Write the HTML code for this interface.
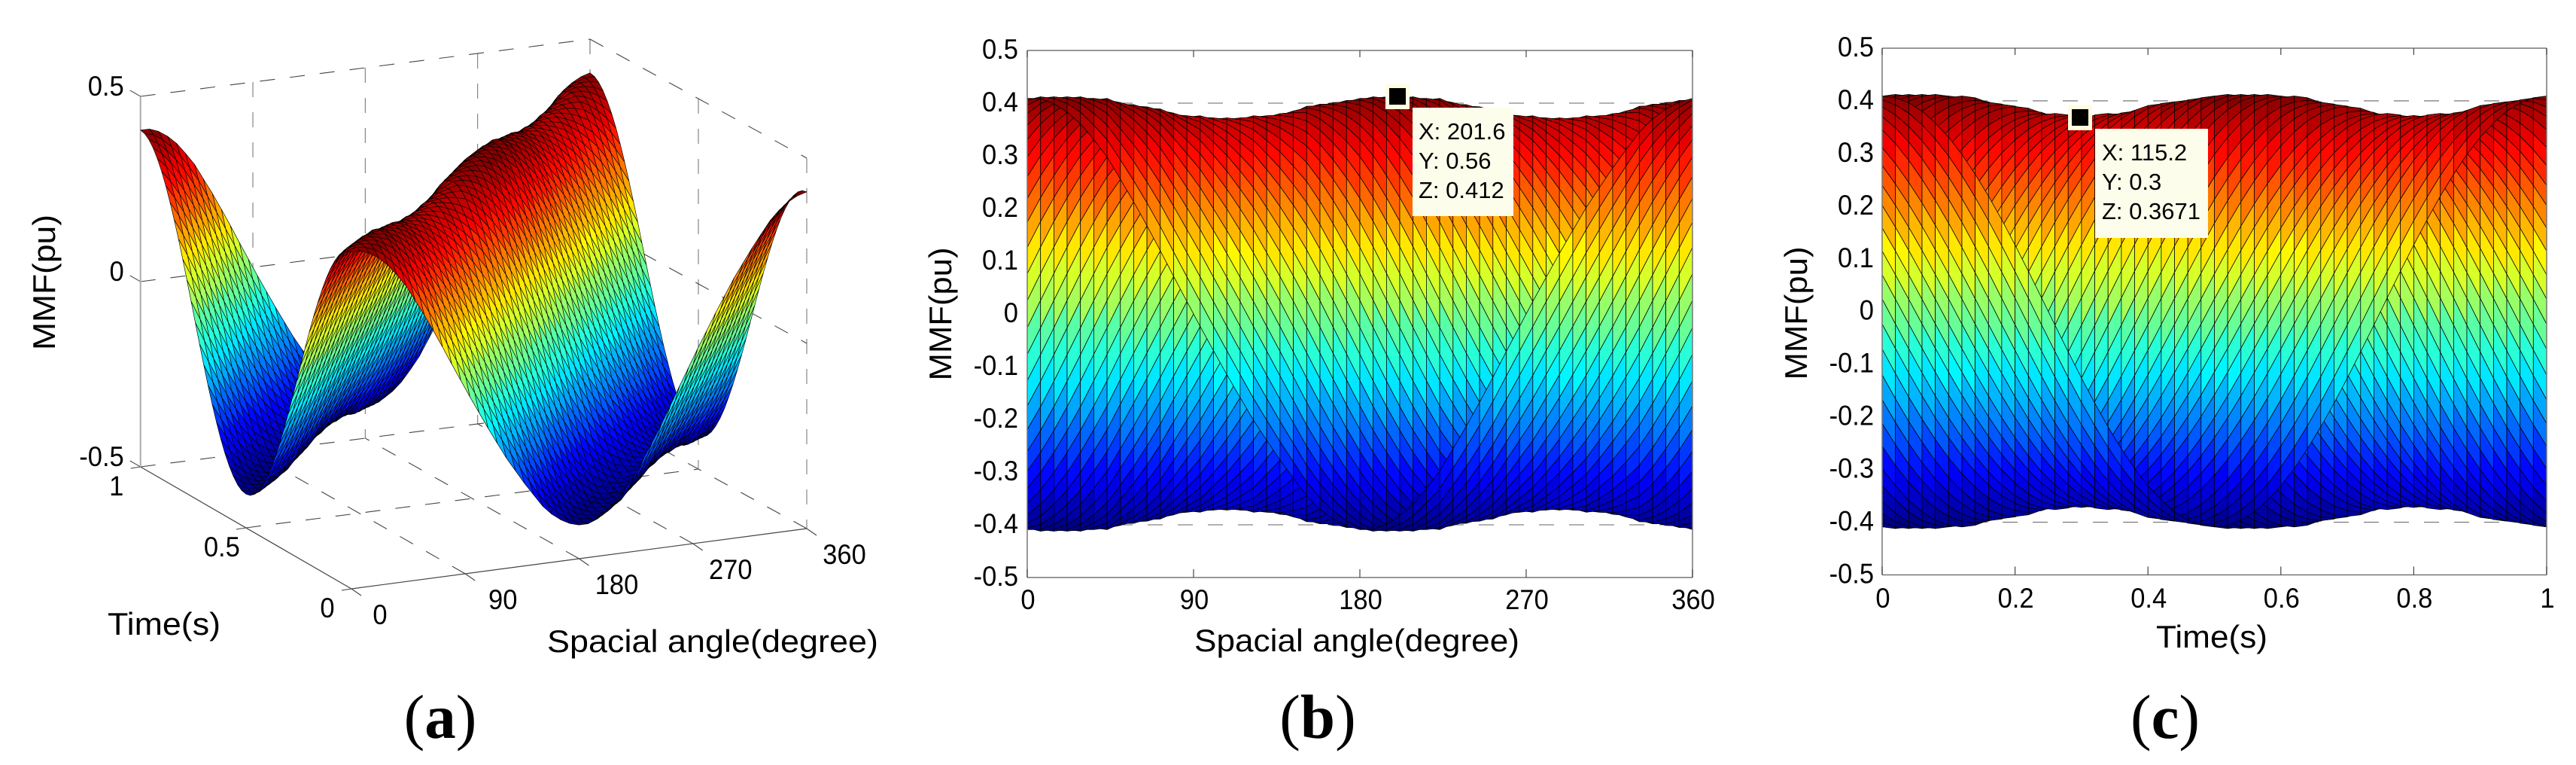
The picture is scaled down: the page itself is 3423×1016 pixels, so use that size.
<!DOCTYPE html>
<html lang="en">
<head>
<meta charset="utf-8">
<title>MMF surface plots</title>
<style>
html,body{margin:0;padding:0;background:#fff;}
svg{display:block;}
text{font-family:"Liberation Sans",sans-serif;fill:#000;}
.tick{font-size:37px;}
.axis-title{font-size:42px;}
.tip{font-size:31px;}
.panel{font-family:"Liberation Serif",serif;font-size:83px;}
</style>
</head>
<body>
<svg id="figure" xmlns="http://www.w3.org/2000/svg" width="3423" height="1016" viewBox="0 0 3423 1016">
  <rect width="3423" height="1016" fill="#fff"/>

  <g id="panelA">
    <g id="a-grid"></g>
    <g id="a-surface"></g>
    <g id="a-labels"></g>
    <text class="axis-title" text-anchor="middle" textLength="180" lengthAdjust="spacingAndGlyphs" transform="translate(73 375) rotate(-90)">MMF(pu)</text>
    <text class="axis-title" text-anchor="middle" textLength="150" lengthAdjust="spacingAndGlyphs" x="218" y="843">Time(s)</text>
    <text class="axis-title" text-anchor="middle" textLength="440" lengthAdjust="spacingAndGlyphs" x="947" y="866">Spacial angle(degree)</text>
    <text class="panel" text-anchor="middle" x="585" y="980">(<tspan font-weight="bold">a</tspan>)</text>
  </g>

  <g id="panelB">
    <g id="b-grid"></g>
    <g id="b-surface"></g>
    <g id="b-axes"></g>
    <text class="axis-title" text-anchor="middle" textLength="177" lengthAdjust="spacingAndGlyphs" transform="translate(1264 417) rotate(-90)">MMF(pu)</text>
    <text class="axis-title" text-anchor="middle" textLength="432" lengthAdjust="spacingAndGlyphs" x="1803" y="865">Spacial angle(degree)</text>
    <rect x="1841" y="112" width="32" height="33" fill="#fdfde0"/>
    <rect x="1846" y="117" width="22" height="22" fill="#000"/>
    <rect x="1877" y="143" width="134" height="144" fill="#fdfdec"/>
    <text class="tip" x="1885" y="185">X: 201.6</text>
    <text class="tip" x="1885" y="224">Y: 0.56</text>
    <text class="tip" x="1885" y="263">Z: 0.412</text>
    <text class="panel" text-anchor="middle" x="1751" y="980">(<tspan font-weight="bold">b</tspan>)</text>
  </g>

  <g id="panelC">
    <g id="c-grid"></g>
    <g id="c-surface"></g>
    <g id="c-axes"></g>
    <text class="axis-title" text-anchor="middle" textLength="177" lengthAdjust="spacingAndGlyphs" transform="translate(2401 416) rotate(-90)">MMF(pu)</text>
    <text class="axis-title" text-anchor="middle" textLength="148" lengthAdjust="spacingAndGlyphs" x="2939" y="860">Time(s)</text>
    <rect x="2748" y="140" width="32" height="33" fill="#fdfde0"/>
    <rect x="2753" y="145" width="22" height="22" fill="#000"/>
    <rect x="2784" y="171" width="150" height="145" fill="#fdfdec"/>
    <text class="tip" x="2793" y="213">X: 115.2</text>
    <text class="tip" x="2793" y="252">Y: 0.3</text>
    <text class="tip" x="2793" y="291">Z: 0.3671</text>
    <text class="panel" text-anchor="middle" x="2877" y="980">(<tspan font-weight="bold">c</tspan>)</text>
  </g>
</svg>

<script>
// ---- chart data ----
const angles = [0,7.2,14.4,21.6,28.8,36,43.2,50.4,57.6,64.8,72,79.2,86.4,93.6,100.8,108,115.2,122.4,129.6,136.8,144,151.2,158.4,165.6,172.8,180,187.2,194.4,201.6,208.8,216,223.2,230.4,237.6,244.8,252,259.2,266.4,273.6,280.8,288,295.2,302.4,309.6,316.8,324,331.2,338.4,345.6,352.8,360];
const times = [0,0.02,0.04,0.06,0.08,0.1,0.12,0.14,0.16,0.18,0.2,0.22,0.24,0.26,0.28,0.3,0.32,0.34,0.36,0.38,0.4,0.42,0.44,0.46,0.48,0.5,0.52,0.54,0.56,0.58,0.6,0.62,0.64,0.66,0.68,0.7,0.72,0.74,0.76,0.78,0.8,0.82,0.84,0.86,0.88,0.9,0.92,0.94,0.96,0.98,1];
// peak MMF seen at each spatial sample (top edge of panel b)
const ridgeEnvelope = [0.409,0.412,0.412,0.412,0.412,0.409,0.409,0.401,0.397,0.393,0.389,0.381,0.376,0.376,0.372,0.372,0.372,0.376,0.376,0.380,0.385,0.394,0.398,0.401,0.405,0.409,0.412,0.412,0.412,0.412,0.409,0.409,0.401,0.397,0.393,0.389,0.381,0.376,0.376,0.372,0.372,0.372,0.376,0.376,0.380,0.385,0.394,0.398,0.401,0.405,0.409];
// travelling-wave shape per 7.2 degree phase step (fraction of the peak)
const waveProfile = [1,0.992,0.969,0.93,0.876,0.809,0.729,0.637,0.536,0.426,0.309,0.187,0.063,-0.063,-0.187,-0.309,-0.426,-0.536,-0.637,-0.729,-0.809,-0.876,-0.93,-0.969,-0.992,-1,-0.992,-0.969,-0.93,-0.876,-0.809,-0.729,-0.637,-0.536,-0.426,-0.309,-0.187,-0.063,0.063,0.187,0.309,0.426,0.536,0.637,0.729,0.809,0.876,0.93,0.969,0.992];
const zTicks3d = [-0.5,0,0.5];
const zTickLabels3d = ['-0.5','0','0.5'];
const angleTicks = [0,90,180,270,360];
const angleTickLabels = ['0','90','180','270','360'];
const timeTicks3d = [0,0.5,1];
const timeTickLabels3d = ['0','0.5','1'];
const zTicks2d = [-0.5,-0.4,-0.3,-0.2,-0.1,0,0.1,0.2,0.3,0.4,0.5];
const zTickLabels2d = ['-0.5','-0.4','-0.3','-0.2','-0.1','0','0.1','0.2','0.3','0.4','0.5'];
const timeTicks2d = [0,0.2,0.4,0.6,0.8,1];
const timeTickLabels2d = ['0','0.2','0.4','0.6','0.8','1'];

// ---- helpers ----
const NS = 'http://www.w3.org/2000/svg';
const $ = id => document.getElementById(id);
const sample = (i, j) => waveProfile[((i - j) % waveProfile.length + waveProfile.length) % waveProfile.length] * ridgeEnvelope[i];
const zAt = times.map((t, j) => angles.map((a, i) => sample(i, j)));
const flat = zAt.reduce((p, r) => p.concat(r), []);
const cMin = Math.min.apply(null, flat);
const cMax = Math.max.apply(null, flat);

function jet(v) {
  const q = Math.min(63, Math.max(0, Math.floor((v - cMin) / (cMax - cMin) * 64)));
  const x = (q + 0.5) / 64;
  const c = k => Math.round(255 * Math.max(0, Math.min(1, 1.5 - Math.abs(4 * x - k))));
  return 'rgb(' + c(3) + ',' + c(2) + ',' + c(1) + ')';
}
function newLine(parent, x1, y1, x2, y2, stroke, width, dash) {
  const el = document.createElementNS(NS, 'line');
  el.setAttribute('x1', x1); el.setAttribute('y1', y1);
  el.setAttribute('x2', x2); el.setAttribute('y2', y2);
  el.setAttribute('stroke', stroke); el.setAttribute('stroke-width', width);
  if (dash) el.setAttribute('stroke-dasharray', dash);
  parent.appendChild(el);
  return el;
}
function labelWidth(str) {
  let w = 0;
  for (const ch of str) w += ch === '.' ? 0.278 : ch === '-' ? 0.333 : 0.556;
  return w * 34.5;
}
function newText(parent, x, y, str, anchor) {
  const el = document.createElementNS(NS, 'text');
  el.setAttribute('x', x); el.setAttribute('y', y + 13);
  el.setAttribute('text-anchor', anchor);
  el.setAttribute('class', 'tick');
  el.setAttribute('textLength', labelWidth(str).toFixed(1));
  el.setAttribute('lengthAdjust', 'spacingAndGlyphs');
  el.textContent = str;
  parent.appendChild(el);
  return el;
}
function newFace(parent, pts, fill, sw) {
  const el = document.createElementNS(NS, 'polygon');
  el.setAttribute('points', pts.map(p => p[0].toFixed(1) + ',' + p[1].toFixed(1)).join(' '));
  el.setAttribute('fill', fill);
  el.setAttribute('stroke', '#000');
  el.setAttribute('stroke-width', sw);
  el.setAttribute('stroke-linejoin', 'round');
  parent.appendChild(el);
  return el;
}

// ---- panel a axes: floor corners and z scale ----
const cornerNear = [467, 782], cornerRight = [1072, 702], cornerLeft = [186.7, 620], cornerFar = [784, 544];
const zScale3d = 492;
function floorA(a, t) {
  const u = a / 360;
  const x = (1 - t) * ((1 - u) * cornerNear[0] + u * cornerRight[0]) + t * ((1 - u) * cornerLeft[0] + u * cornerFar[0]);
  const y = (1 - t) * ((1 - u) * cornerNear[1] + u * cornerRight[1]) + t * ((1 - u) * cornerLeft[1] + u * cornerFar[1]);
  return [x, y];
}
function projA(a, t, z) {
  const f = floorA(a, t);
  return [f[0], f[1] - (z + 0.5) * zScale3d];
}
// ---- panel b and c axes ----
const xB = a => 1365 + a / 360 * 884;
const yB = z => 417 - 700 * z;
const xC = t => 2501 + t * 883;
const yC = z => 413.7 - 699.5 * z;

// ---- panel a grid ----
(function () {
  const g = $('a-grid');
  const wallC = '#7a7a7a', floorC = '#444', dashW = 1.1, dash = '20 20';
  function seg(p, q, color, w, d, name) {
    const el = newLine(g, p[0], p[1], q[0], q[1], color, w, d);
    
    
  }
  angleTicks.forEach(a => {
    if (a > 0) {
      seg(projA(a, 1, 0.5), projA(a, 1, -0.5), wallC, dashW, dash, 'rear-wall-gridline');
      seg(projA(a, 0, -0.5), projA(a, 1, -0.5), floorC, dashW, dash, 'floor-angle-gridline');
    }
    const p = projA(a, 0, -0.5);
    seg(p, [p[0] + 13, p[1] + 9], floorC, 1.1, null, 'angle-tick');
  });
  timeTicks3d.forEach(t => {
    if (t > 0) seg(projA(0, t, -0.5), projA(360, t, -0.5), floorC, dashW, dash, 'floor-time-gridline');
    seg(projA(360, t, 0.5), projA(360, t, -0.5), wallC, dashW, dash, 'right-wall-gridline');
    const p = projA(0, t, -0.5);
    seg(p, [p[0] - 13, p[1] + 2], floorC, 1.1, null, 'time-tick');
  });
  zTicks3d.forEach(z => {
    if (z > -0.5) {
      seg(projA(0, 1, z), projA(360, 1, z), floorC, dashW, dash, 'rear-wall-z-gridline');
      seg(projA(360, 1, z), projA(360, 0, z), floorC, dashW, dash, 'right-wall-z-gridline');
    }
    const p = projA(0, 1, z);
    seg(p, [p[0] - 14, p[1] - 8], '#555', 1.1, null, 'z-tick');
  });
  seg(projA(0, 1, -0.5), projA(0, 0, -0.5), '#444', 1.2, null, 'time-axis-line');
  seg(projA(0, 0, -0.5), projA(360, 0, -0.5), '#444', 1.2, null, 'angle-axis-line');
  seg(projA(0, 1, -0.5), projA(0, 1, 0.5), '#aaa', 2, null, 'z-axis-line');
})();

// ---- panel a surface (far to near, ordered by floor height on screen) ----
(function () {
  const g = $('a-surface');
  const order = [];
  for (let j = 0; j < times.length - 1; j++) {
    for (let i = 0; i < angles.length - 1; i++) {
      order.push([floorA((angles[i] + angles[i + 1]) / 2, (times[j] + times[j + 1]) / 2)[1], i, j]);
    }
  }
  order.sort((p, q) => p[0] - q[0]);
  order.forEach(o => {
    const i = o[1], j = o[2];
    const el = newFace(g, [
      projA(angles[i], times[j], zAt[j][i]),
      projA(angles[i + 1], times[j], zAt[j][i + 1]),
      projA(angles[i + 1], times[j + 1], zAt[j + 1][i + 1]),
      projA(angles[i], times[j + 1], zAt[j + 1][i])
    ], jet(zAt[j][i]), 0.65);
    
    
  });
})();

// ---- panel a tick labels ----
(function () {
  const g = $('a-labels');
  zTicks3d.forEach((z, k) => {
    const p = projA(0, 1, z);
    const el = newText(g, p[0] - 22, p[1] - 14, zTickLabels3d[k], 'end');
    
    
  });
  timeTicks3d.forEach((t, k) => {
    const p = projA(0, t, -0.5);
    const el = newText(g, p[0] - 32, p[1] + 25, timeTickLabels3d[k], 'middle');
    
    
  });
  angleTicks.forEach((a, k) => {
    const p = projA(a, 0, -0.5);
    const el = newText(g, p[0] + (a === 0 ? 38 : 50), p[1] + 34, angleTickLabels[k], 'middle');
    
    
  });
})();

// ---- panel b ----
(function () {
  const grid = $('b-grid'), surf = $('b-surface'), ax = $('b-axes');
  zTicks2d.forEach(z => {
    if (Math.abs(z) < 0.5) {
      const el = newLine(grid, xB(0), yB(z), xB(360), yB(z), '#666', 1.1, '20 20');
      
      
    }
  });
  for (let j = times.length - 2; j >= 0; j--) {
    for (let i = 0; i < angles.length - 1; i++) {
      const el = newFace(surf, [
        [xB(angles[i]), yB(zAt[j][i])],
        [xB(angles[i + 1]), yB(zAt[j][i + 1])],
        [xB(angles[i + 1]), yB(zAt[j + 1][i + 1])],
        [xB(angles[i]), yB(zAt[j + 1][i])]
      ], jet(zAt[j][i]), 0.75);
      
      
    }
  }
  const box = [[xB(0), yB(0.5), xB(360), yB(0.5)], [xB(360), yB(0.5), xB(360), yB(-0.5)], [xB(360), yB(-0.5), xB(0), yB(-0.5)], [xB(0), yB(-0.5), xB(0), yB(0.5)]];
  box.forEach(b => {
    const el = newLine(ax, b[0], b[1], b[2], b[3], '#777', 1.5);
    
    
  });
  angleTicks.forEach((a, k) => {
    const top = newLine(ax, xB(a), yB(0.5), xB(a), yB(0.5) + 9, '#444', 1.2);
    
    
    const bot = newLine(ax, xB(a), yB(-0.5), xB(a), yB(-0.5) - 11, '#444', 1.2);
    
    
    const lab = newText(ax, xB(a) + 1, 796, angleTickLabels[k], 'middle');
    
    
  });
  zTicks2d.forEach((z, k) => {
    const lab = newText(ax, 1353, yB(z) - 2, zTickLabels2d[k], 'end');
    
    
  });
})();

// ---- panel c ----
(function () {
  const grid = $('c-grid'), surf = $('c-surface'), ax = $('c-axes');
  zTicks2d.forEach(z => {
    if (Math.abs(z) < 0.5) {
      const el = newLine(grid, xC(0), yC(z), xC(1), yC(z), '#666', 1.1, '20 20');
      
      
    }
  });
  for (let i = 0; i < angles.length - 1; i++) {
    for (let j = 0; j < times.length - 1; j++) {
      const el = newFace(surf, [
        [xC(times[j]), yC(zAt[j][i])],
        [xC(times[j + 1]), yC(zAt[j + 1][i])],
        [xC(times[j + 1]), yC(zAt[j + 1][i + 1])],
        [xC(times[j]), yC(zAt[j][i + 1])]
      ], jet(zAt[j][i]), 0.75);
      
      
    }
  }
  const box = [[xC(0), yC(0.5), xC(1), yC(0.5)], [xC(1), yC(0.5), xC(1), yC(-0.5)], [xC(1), yC(-0.5), xC(0), yC(-0.5)], [xC(0), yC(-0.5), xC(0), yC(0.5)]];
  box.forEach(b => {
    const el = newLine(ax, b[0], b[1], b[2], b[3], '#777', 1.5);
    
    
  });
  timeTicks2d.forEach((t, k) => {
    const top = newLine(ax, xC(t), yC(0.5), xC(t), yC(0.5) + 9, '#444', 1.2);
    
    
    const bot = newLine(ax, xC(t), yC(-0.5), xC(t), yC(-0.5) - 11, '#444', 1.2);
    
    
    const lab = newText(ax, xC(t) + 1, 794, timeTickLabels2d[k], 'middle');
    
    
  });
  zTicks2d.forEach((z, k) => {
    const lab = newText(ax, 2490, yC(z) - 2, zTickLabels2d[k], 'end');
    
    
  });
})();
</script>
</body>
</html>
